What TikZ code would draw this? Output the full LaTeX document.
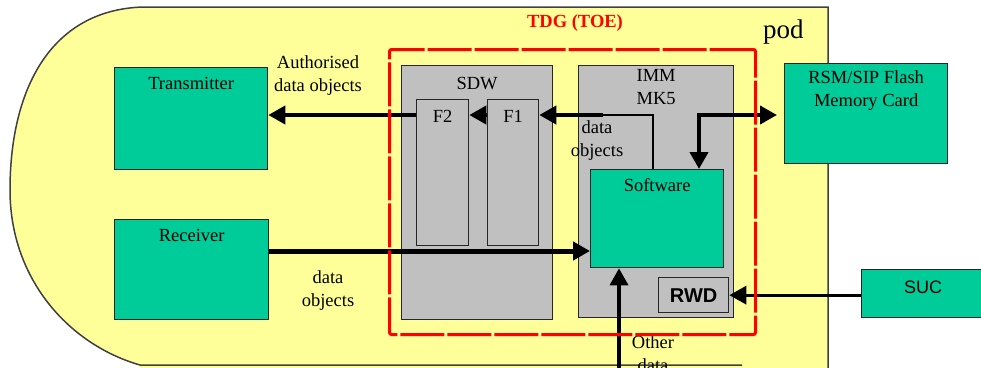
\documentclass[tikz,border=0pt]{standalone}
\usepackage{fontspec}
\setmainfont{Liberation Serif}
\newfontfamily\arialfont{Liberation Sans}
\usetikzlibrary{arrows.meta}
\definecolor{podyellow}{HTML}{FFFF99}
\definecolor{boxgreen}{HTML}{00CC99}
\definecolor{boxgray}{HTML}{C0C0C0}
\definecolor{podline}{HTML}{404040}
\begin{document}
\begin{tikzpicture}[x=1pt,y=-1pt,
  txt/.style={font=\fontsize{18.5}{23.5}\selectfont, align=center, inner sep=0pt},
  greenbox/.style={draw=black!85, fill=boxgreen, line width=1.3pt, anchor=north west, inner sep=0pt},
  graybox/.style={draw=black!85, fill=boxgray, line width=1.3pt, anchor=north west, inner sep=0pt},
  tip/.style={-{Triangle[length=17pt,width=18pt]}},
  bothtip/.style={{Triangle[length=17pt,width=18pt]}-{Triangle[length=17pt,width=18pt]}},
  flow/.style={line width=4pt, tip},
  thinflow/.style={line width=1.5pt},
  toebox/.style={draw=red, line width=3pt, dash pattern=on 44pt off 3pt, rounded corners=2pt, anchor=north west, inner sep=0pt}
]
\useasboundingbox (0,0) rectangle (981,367);
% pod
\fill[podyellow] (143,7) -- (828,7) -- (828,372) -- (140,372) -- (140,365)
  .. controls (70,345) and (10,280) .. (10,190)
  .. controls (10,90) and (50,10) .. (143,7) -- cycle;
\draw[podline, line width=1.5pt] (742,365) -- (140,365)
  .. controls (70,345) and (10,280) .. (10,190)
  .. controls (10,90) and (50,10) .. (143,7) -- (828,7) -- (828,372);
\node[anchor=base west, inner sep=0pt, font=\fontsize{27}{30}\selectfont] (podlbl) at (763,38) {pod};

% coordinates for connector rows
\coordinate (y1) at (0,115);
\coordinate (y2) at (0,251);
\coordinate (x653) at (653,0);
\coordinate (x699) at (699,0);
\coordinate (d1) at (603,115);
\coordinate (od) at (619,375);

% boxes
\node[greenbox, minimum width=153pt, minimum height=102pt,
  label={[txt,anchor=north,yshift=-10pt]north:Transmitter}] (tx) at (114,67) {};
\node[greenbox, minimum width=154pt, minimum height=100pt,
  label={[txt,anchor=north,yshift=-10pt]north:Receiver}] (rx) at (114,219) {};
\node[graybox, minimum width=151pt, minimum height=254pt,
  label={[txt,anchor=north,yshift=-12pt]north:SDW}] (sdw) at (401,65) {};
\node[graybox, minimum width=52pt, minimum height=146pt,
  label={[txt,anchor=north,yshift=-11pt]north:F2}] (f2) at (416,99) {};
\node[graybox, minimum width=51pt, minimum height=146pt,
  label={[txt,anchor=north,yshift=-11pt]north:F1}] (f1) at (487,99) {};
\node[graybox, minimum width=155pt, minimum height=252pt,
  label={[txt,anchor=north,yshift=-4pt]north:IMM\\MK5}] (imm) at (578,65) {};
\node[txt, anchor=north] (dolbl) at (597,120) {data\\objects};
\node[greenbox, minimum width=133pt, minimum height=98pt,
  label={[txt,anchor=north,yshift=-9pt]north:Software}] (sw) at (590,169) {};
\node[graybox, draw=black!85, minimum width=70pt, minimum height=35pt,
  font=\arialfont\bfseries\fontsize{20}{22}\selectfont] (rwd) at (658,277) {RWD};
\node[greenbox, minimum width=163pt, minimum height=100pt,
  label={[txt,anchor=north,yshift=-7pt]north:RSM/SIP Flash\\Memory Card}] (rsm) at (784,63) {};
\node[greenbox, minimum width=140pt, minimum height=48pt] (suc) at (861,269) {};
\node[anchor=north, inner sep=0pt, font=\arialfont\fontsize{18}{20}\selectfont] (suclbl) at (923,281) {SUC};

% labels
\node[txt, anchor=north] (authlbl) at (318,55) {Authorised\\data objects};
\node[txt, anchor=north] (rxlbl) at (328,270) {data\\objects};
\node[txt, anchor=north] (odlbl) at (653,335) {Other\\data};

% connectors
\draw[flow] (f2.west |- y1) -- (tx.east |- y1);
\draw[flow] (f1.west |- y1) -- (f2.east |- y1);
\draw[thinflow] (sw.north -| x653) -- (x653 |- y1) -- (d1);
\draw[flow] (d1) -- (f1.east |- y1);
\draw[line width=4pt, bothtip, shorten >=7pt] (sw.north -| x699) -- (x699 |- y1) -- (rsm.west |- y1);
\draw[flow, line width=5pt] (rx.east |- y2) -- (sw.west |- y2);
\draw[flow, line width=3.5pt] (od) -- (sw.south -| od);
\draw[flow, line width=3.2pt] (suc.west |- rwd.east) -- (rwd.east);

% TOE boundary
\node[toebox, minimum width=366pt, minimum height=285pt] (toe) at (388,48) {};
\node[anchor=base, inner sep=0pt, text=red, font=\bfseries\fontsize{18.5}{20}\selectfont] (toelbl) at (575,27) {TDG (TOE)};
\end{tikzpicture}
\end{document}
